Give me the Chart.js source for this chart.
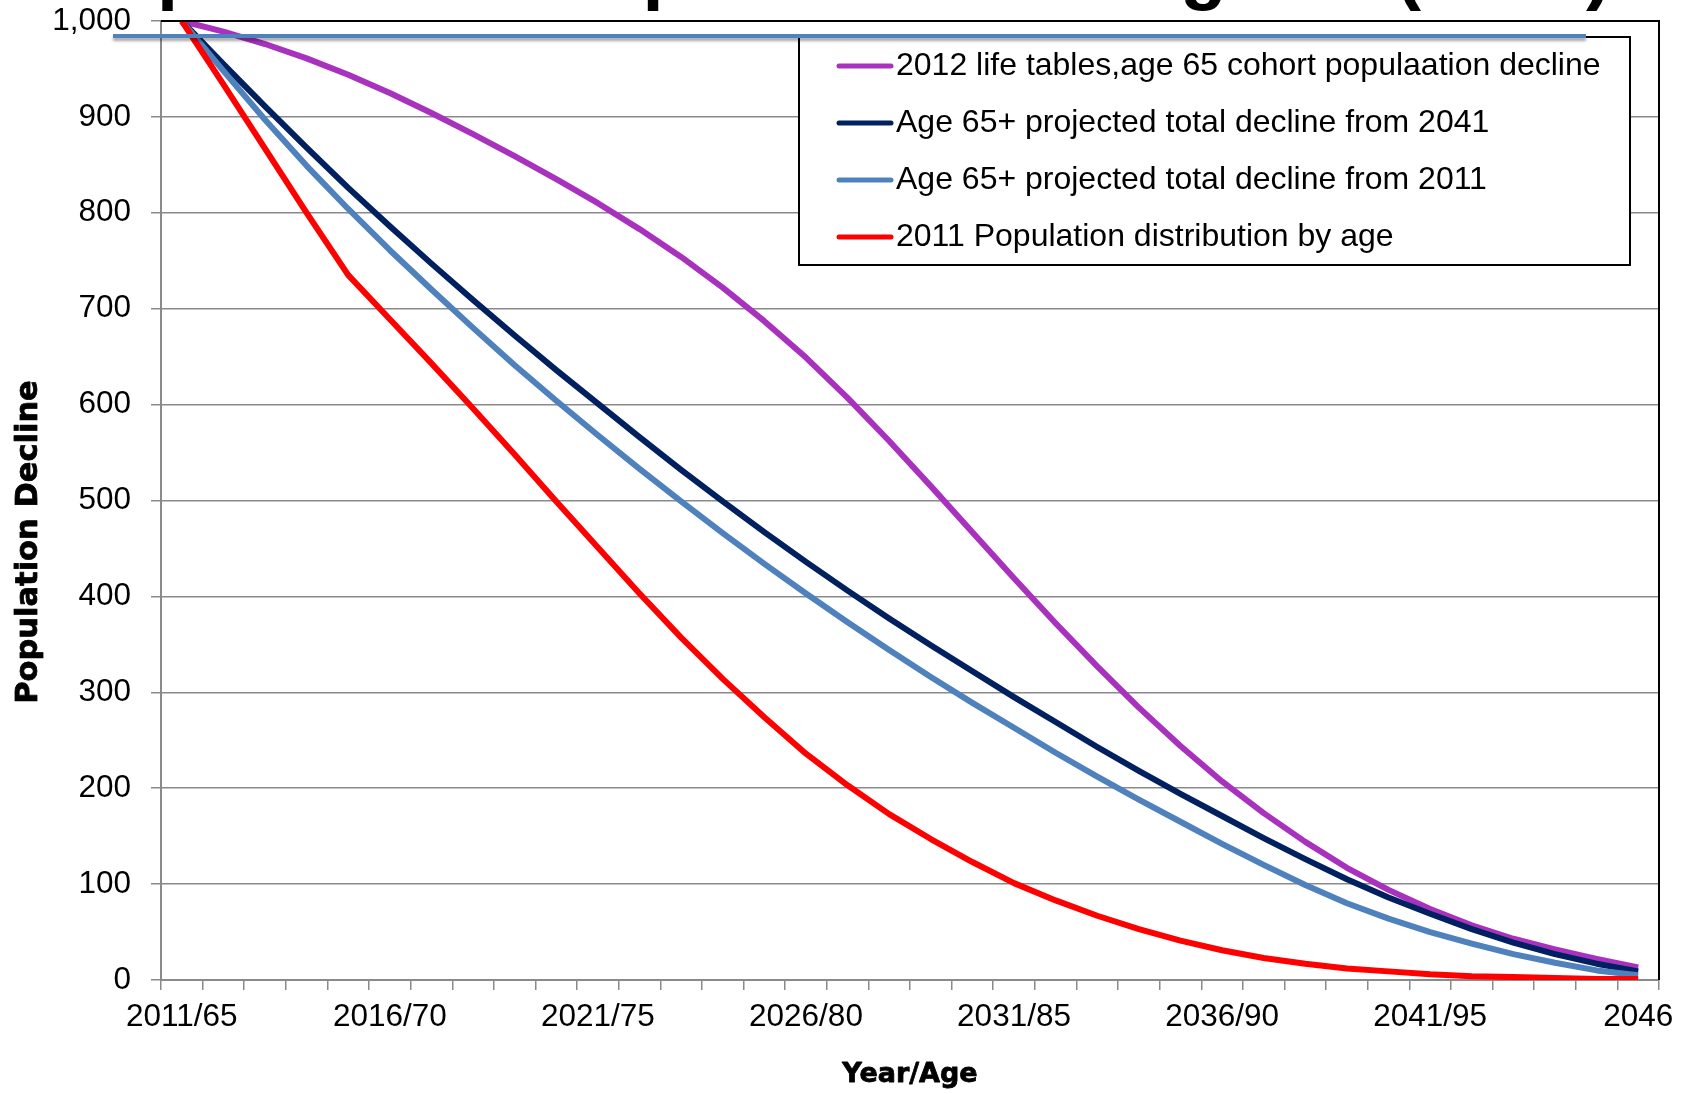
<!DOCTYPE html>
<html>
<head>
<meta charset="utf-8">
<title>Population Decline by Year/Age</title>
<script src="https://cdn.jsdelivr.net/npm/chart.js@4.4.1/dist/chart.umd.min.js"></script>
<style>
  html, body { margin: 0; padding: 0; background: #fff; overflow: hidden; }
  #stage { position: relative; width: 1692px; height: 1094px; overflow: hidden; }
  #chart { position: absolute; left: 0; top: 0; }
  #slideTitle {
    position: absolute; left: 60px; top: -69px; z-index: 1;
    font: bold 76px "Liberation Sans", Arial, sans-serif;
    line-height: 1; white-space: nowrap; color: #000;
  }
  #titleRule {
    position: absolute; left: 113px; top: 34px; width: 1473px; height: 4px; z-index: 2;
    background: #4F81BD; box-shadow: 0 3px 3px rgba(0, 0, 0, 0.35);
  }
</style>
</head>
<body>
<div id="stage">
  <div id="slideTitle">Population Comparison from Age 65 (2011)</div>
  <canvas id="chart" width="1692" height="1094"></canvas>
  <div id="titleRule"></div>
</div>
<script>
// Year / age of the 65-year-old cohort
const yearAgeLabels = [
  '2011/65', '2012/66', '2013/67', '2014/68', '2015/69',
  '2016/70', '2017/71', '2018/72', '2019/73', '2020/74',
  '2021/75', '2022/76', '2023/77', '2024/78', '2025/79',
  '2026/80', '2027/81', '2028/82', '2029/83', '2030/84',
  '2031/85', '2032/86', '2033/87', '2034/88', '2035/89',
  '2036/90', '2037/91', '2038/92', '2039/93', '2040/94',
  '2041/95', '2042/96', '2043/97', '2044/98', '2045/99',
  '2046'
];
const labelEvery = 5;

// Survivors per 1,000 at each year/age
const lifeTables2012 = [
  1000, 989, 976, 961, 944, 925, 904, 882, 859, 835,
  810, 783, 754, 722, 687, 649, 607, 562, 515, 467,
  419, 372, 327, 284, 244, 207, 174, 144, 117, 94,
  74, 57, 43, 32, 22, 13
];
const projectedFrom2041 = [
  1000, 955, 911, 868, 826, 786, 747, 709, 672, 636,
  601, 566, 532, 499, 467, 436, 406, 377, 349, 322,
  295, 269, 243, 218, 194, 171, 148, 126, 105, 86,
  69, 53, 39, 27, 17, 9
];
const projectedFrom2011 = [
  1000, 948, 897, 849, 804, 761, 720, 680, 641, 604,
  568, 533, 499, 466, 434, 403, 373, 344, 316, 289,
  263, 237, 212, 188, 165, 142, 120, 99, 80, 64,
  50, 38, 27, 18, 10, 5
];
const distribution2011 = [
  1000, 934, 867, 800, 735, 689, 643, 596, 548, 499,
  451, 403, 357, 314, 274, 236, 203, 173, 147, 123,
  101, 83, 67, 53, 41, 31, 23, 17, 12, 9,
  6, 4, 3, 2, 1, 1
];

const seriesNames = [
  '2012 life tables,age 65 cohort populaation decline',
  'Age 65+ projected total decline from 2041',
  'Age 65+ projected total decline from 2011',
  '2011 Population distribution by age'
];

const yTickValues = [0, 100, 200, 300, 400, 500, 600, 700, 800, 900, 1000];

const xAxisTitle = 'Year/Age';
const yAxisTitle = 'Population Decline';

const SANS = '"Liberation Sans", Arial, sans-serif';
const HEAVY = '"DejaVu Sans", "Liberation Sans", sans-serif';
const GRID = '#8a8a8a';

// Plot frame (top/right), boxed legend and the two axis titles
const frameAndLegend = {
  id: 'frameAndLegend',
  afterDatasetsDraw(chart) {
    const { ctx, chartArea: a } = chart;
    ctx.save();
    ctx.strokeStyle = '#000';
    ctx.lineWidth = 2;
    ctx.beginPath();
    ctx.moveTo(a.left, a.top);
    ctx.lineTo(a.right, a.top);
    ctx.lineTo(a.right, a.bottom);
    ctx.stroke();

    const bx = a.left + 638, by = a.top + 16, bw = 831, bh = 228;
    ctx.fillStyle = '#fff';
    ctx.fillRect(bx, by, bw, bh);
    ctx.strokeRect(bx, by, bw, bh);

    ctx.font = '32px ' + SANS;
    ctx.textAlign = 'left';
    ctx.textBaseline = 'middle';
    chart.data.datasets.forEach((ds, i) => {
      const y = by + 29 + i * 57;
      ctx.strokeStyle = ds.borderColor;
      ctx.lineWidth = 5;
      ctx.lineCap = 'round';
      ctx.beginPath();
      ctx.moveTo(bx + 40, y);
      ctx.lineTo(bx + 92, y);
      ctx.stroke();
      ctx.fillStyle = '#000';
      ctx.fillText(ds.label, bx + 97, y);
    });
    ctx.restore();
  },
  afterDraw(chart) {
    const { ctx, chartArea: a } = chart;
    ctx.save();
    ctx.fillStyle = '#000';
    ctx.strokeStyle = '#000';
    ctx.lineWidth = 0.8;
    ctx.lineJoin = 'round';

    // vertical axis title
    ctx.save();
    ctx.translate(37, 542);
    ctx.rotate(-Math.PI / 2);
    ctx.font = 'bold 30.5px ' + HEAVY;
    ctx.textAlign = 'center';
    ctx.textBaseline = 'alphabetic';
    ctx.fillText(yAxisTitle, 0, 0);
    ctx.strokeText(yAxisTitle, 0, 0);
    ctx.restore();

    // horizontal axis title
    ctx.font = 'bold 27px ' + HEAVY;
    ctx.textAlign = 'center';
    ctx.textBaseline = 'alphabetic';
    const cx = (a.left + a.right) / 2;
    ctx.fillText(xAxisTitle, cx, 1082);
    ctx.strokeText(xAxisTitle, cx, 1082);
    ctx.restore();
  }
};

const lineStyle = { borderWidth: 6, pointRadius: 0, pointHoverRadius: 0, tension: 0, fill: false, borderJoinStyle: 'round' };

new Chart(document.getElementById('chart'), {
  type: 'line',
  data: {
    labels: yearAgeLabels,
    datasets: [
      { label: seriesNames[0], data: lifeTables2012, borderColor: '#A832BE', order: 4, ...lineStyle },
      { label: seriesNames[1], data: projectedFrom2041, borderColor: '#002060', order: 3, ...lineStyle },
      { label: seriesNames[2], data: projectedFrom2011, borderColor: '#4F81BD', order: 2, ...lineStyle },
      { label: seriesNames[3], data: distribution2011, borderColor: '#FF0000', order: 1, ...lineStyle }
    ]
  },
  options: {
    responsive: false,
    animation: false,
    devicePixelRatio: 1,
    events: [],
    layout: { padding: { left: 0, right: 33, top: 21, bottom: 0 } },
    plugins: { legend: { display: false }, tooltip: { enabled: false }, title: { display: false } },
    scales: {
      x: {
        type: 'category',
        offset: true,
        grid: { offset: true, drawOnChartArea: false, drawTicks: true, tickLength: 10, color: GRID, lineWidth: 1.5 },
        border: { display: true, color: GRID, width: 2 },
        ticks: {
          autoSkip: false, maxRotation: 0, minRotation: 0, padding: 8, color: '#000',
          font: { family: SANS, size: 31.5 },
          callback: (value, index) => (index % labelEvery === 0 ? yearAgeLabels[index] : '')
        },
        afterFit: (scale) => { scale.height = 114; scale.paddingLeft = 0; scale.paddingRight = 0; }
      },
      y: {
        min: 0, max: 1000,
        afterBuildTicks: (scale) => { scale.ticks = yTickValues.map(v => ({ value: v })); },
        grid: { color: GRID, lineWidth: 1.5, tickLength: 10, drawTicks: true },
        border: { display: true, color: GRID, width: 2 },
        ticks: {
          padding: 20, color: '#000',
          font: { family: SANS, size: 31.5 },
          callback: (value) => Number(value).toLocaleString('en-US')
        },
        afterFit: (scale) => { scale.width = 161; scale.paddingTop = 0; scale.paddingBottom = 0; }
      }
    }
  },
  plugins: [frameAndLegend]
});
</script>
</body>
</html>
